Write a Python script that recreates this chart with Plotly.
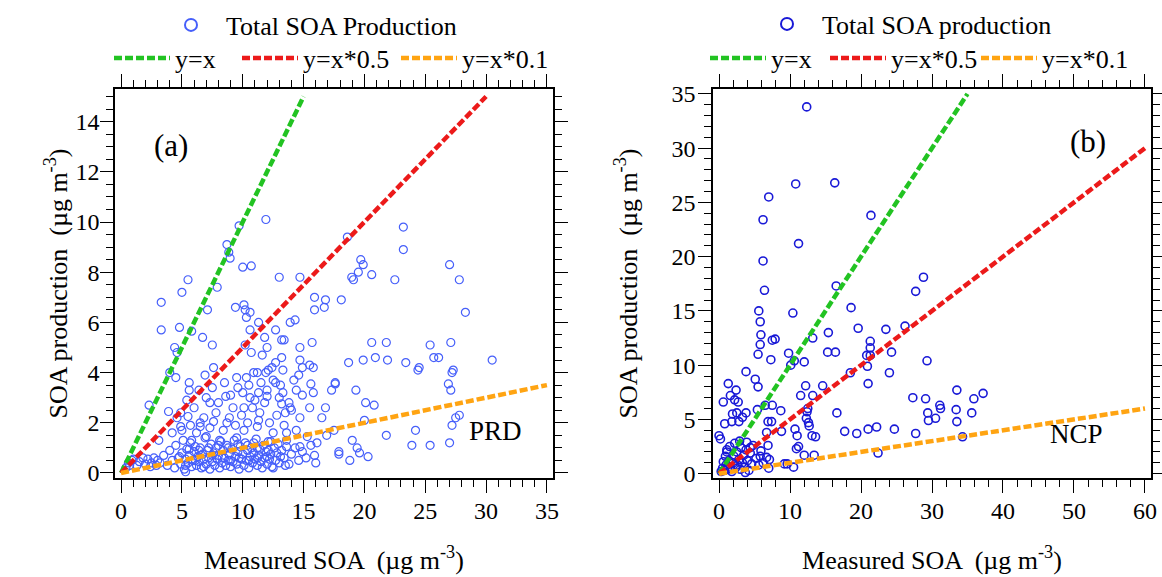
import plotly.graph_objects as go

# ---------------- data ----------------
# Panel (a) PRD : (Measured SOA, SOA production)
prd_points = [
    (11.9, 10.1), (9.7, 9.85), (23.2, 9.8), (23.2, 8.9), (18.6, 9.4), (8.7, 9.1), (8.85, 8.8), (8.96, 8.56),
    (10.0, 8.2), (10.7, 8.25), (19.7, 8.5), (19.9, 8.3), (19.5, 8.0), (18.96, 7.8), (19.1, 7.7), (20.6, 7.9),
    (22.5, 7.7), (27.0, 8.3), (27.8, 7.7), (13.0, 7.8), (14.7, 7.8), (5.5, 7.7), (5.0, 7.2), (7.9, 7.4),
    (3.3, 6.8), (7.1, 6.5), (9.4, 6.6), (10.1, 6.7), (10.2, 6.5), (10.3, 6.2), (10.6, 6.4), (15.9, 7.0),
    (16.8, 6.9), (15.9, 6.5), (16.7, 6.6), (18.1, 6.9), (28.3, 6.4), (3.3, 5.7), (4.8, 5.8), (5.8, 5.65),
    (6.7, 5.4), (7.5, 5.1), (4.4, 5.0), (4.6, 4.8), (10.6, 5.7), (11.3, 6.0), (11.8, 5.4), (12.7, 5.7),
    (13.2, 5.3), (13.4, 5.3), (13.9, 6.0), (14.3, 6.1), (14.7, 5.0), (15.7, 5.2), (10.2, 5.1), (10.7, 4.8),
    (11.6, 4.7), (12.0, 5.0), (20.6, 5.2), (21.8, 5.2), (25.4, 5.1), (27.1, 5.2), (18.7, 4.4), (19.9, 4.5),
    (20.9, 4.6), (21.9, 4.5), (23.4, 4.4), (25.7, 4.6), (26.1, 4.6), (30.5, 4.5), (24.4, 4.1), (24.5, 4.2),
    (27.2, 4.0), (27.3, 4.1), (26.9, 3.55), (27.1, 3.3), (27.8, 2.3), (27.5, 2.2), (27.2, 1.9), (27.0, 1.2),
    (25.4, 1.1), (23.9, 1.1), (24.2, 1.7), (21.8, 1.5), (19.3, 3.3), (20.1, 2.8), (20.8, 2.7), (20.0, 2.1),
    (19.0, 1.3), (19.4, 1.0), (20.3, 0.65), (19.6, 0.8), (18.8, 0.5), (17.9, 0.85), (17.9, 0.75), (17.6, 3.6),
    (17.6, 3.55), (17.3, 3.3), (17.5, 1.7), (16.9, 1.5), (16.8, 2.6), (16.5, 2.2), (16.1, 1.2), (15.9, 0.7),
    (15.3, 1.45), (2.3, 2.7), (3.9, 2.45), (4.0, 4.0), (4.5, 3.8), (3.1, 1.3), (5.6, 3.6), (5.6, 3.3),
    (6.4, 3.3), (6.9, 3.9), (7.6, 4.2), (9.6, 3.4), (10.9, 4.0), (11.2, 4.0), (11.9, 4.0), (12.1, 4.1),
    (12.4, 4.2), (12.7, 4.4), (13.2, 4.6), (12.5, 3.7), (12.7, 3.6), (13.3, 4.1), (10.3, 3.8), (14.7, 4.5),
    (14.9, 4.2), (15.5, 4.3), (15.8, 4.2), (14.6, 3.9), (14.2, 3.7), (14.4, 3.3), (14.9, 3.1), (15.6, 3.55),
    (15.8, 3.2), (15.5, 2.6), (13.1, 3.5), (13.3, 3.2), (13.2, 2.75), (13.8, 2.8), (13.9, 2.6), (11.3, 3.2),
    (12.0, 3.05), (10.6, 3.0), (8.6, 3.05), (7.3, 2.8), (9.2, 2.6), (10.1, 2.6), (11.4, 2.4), (13.5, 2.4),
    (14.7, 2.2), (14.4, 1.7), (12.5, 1.6), (13.6, 1.6), (11.2, 1.85), (10.1, 1.7), (8.7, 2.0), (7.6, 2.05),
    (6.5, 1.85), (5.5, 2.25), (4.9, 2.4), (4.9, 1.85), (5.8, 1.3), (7.0, 1.45), (8.1, 1.3), (9.5, 1.4),
    (10.9, 1.2), (12.3, 1.25), (13.6, 1.05), (14.7, 1.05), (13.1, 0.65), (12.5, 0.2), (13.5, 0.3), (5.3, 0.05),
    (0.9, 0.5), (0.6, 0.4), (1.3, 0.3), (2.4, 0.25),
    (3.2, 0.4), (3.5, 0.7), (3.8, 0.3), (4.0, 0.9), (4.2, 0.5), (4.4, 0.2), (4.5, 1.1), (4.7, 0.6),
    (4.9, 0.35), (5.0, 0.8), (5.1, 1.3), (5.2, 0.15), (5.3, 0.55), (5.4, 0.95), (5.5, 0.4), (5.6, 0.7),
    (5.7, 1.2), (5.8, 0.25), (5.9, 0.5), (6.0, 0.85), (6.1, 1.05), (6.2, 0.3), (6.3, 0.65), (6.4, 0.45),
    (6.5, 1.0), (6.6, 0.2), (6.7, 0.75), (6.8, 0.55), (6.9, 1.4), (7.0, 0.35), (7.1, 0.9), (7.2, 0.6),
    (7.3, 0.15), (7.4, 1.15), (7.5, 0.45), (7.6, 0.8), (7.7, 0.3), (7.8, 1.0), (7.9, 0.55), (8.0, 0.7),
    (8.1, 0.2), (8.2, 1.25), (8.3, 0.4), (8.4, 0.9), (8.5, 0.6), (8.6, 0.3), (8.7, 1.1), (8.8, 0.5),
    (8.9, 0.75), (9.0, 0.25), (9.1, 0.95), (9.2, 0.45), (9.3, 1.3), (9.4, 0.65), (9.5, 0.35), (9.6, 0.85),
    (9.7, 0.15), (9.8, 1.05), (9.9, 0.55), (10.0, 0.75), (10.1, 0.3), (10.2, 1.2), (10.3, 0.5), (10.4, 0.9),
    (10.5, 0.2), (10.6, 0.65), (10.7, 1.0), (10.8, 0.4), (10.9, 0.8), (11.0, 0.55), (11.1, 1.35), (11.2, 0.3),
    (11.3, 0.7), (11.4, 0.95), (11.5, 0.45), (11.6, 0.2), (11.7, 1.1), (11.8, 0.6), (11.9, 0.85), (12.0, 0.35),
    (12.1, 1.25), (12.2, 0.55), (12.3, 0.75), (12.4, 0.25), (12.6, 1.0), (12.7, 0.5), (12.8, 0.8), (12.9, 1.15),
    (13.0, 0.4), (13.2, 0.9), (13.4, 0.6), (13.6, 1.3), (13.8, 0.35), (14.0, 0.75), (14.3, 1.0), (14.6, 0.5),
    (14.9, 0.85), (15.2, 0.6), (15.6, 1.1), (16.0, 0.4),
    (1.5, 0.45), (1.8, 0.6), (2.0, 0.35), (2.2, 0.55), (2.5, 0.4), (2.7, 0.6), (2.9, 0.3), (3.0, 0.5),
    (1.0, 0.55), (0.7, 0.3), (0.4, 0.2),
    (5.3, 0.3), (6.1, 0.5), (6.8, 0.25), (7.5, 0.7), (8.3, 0.6), (9.0, 0.5), (9.7, 0.6), (10.5, 0.5),
    (11.2, 0.6), (12.0, 0.65), (6.4, 0.9), (7.2, 1.0), (8.0, 1.1), (8.8, 1.0), (9.6, 1.15), (10.4, 1.1),
    (11.2, 1.0), (12.1, 0.9), (4.8, 0.65), (5.6, 0.95),
    (4.2, 1.6), (5.0, 1.7), (5.7, 1.9), (6.2, 1.6), (6.8, 2.2), (7.3, 1.8), (7.8, 2.4), (8.4, 1.7),
    (8.9, 2.2), (9.4, 1.9), (9.9, 2.3), (10.4, 2.0), (10.8, 2.6), (11.3, 2.1), (11.8, 2.8), (12.2, 2.0),
    (12.8, 2.3), (13.4, 1.9), (14.0, 2.5), (6.0, 2.6), (7.0, 3.0), (8.0, 2.8), (9.0, 3.1), (10.0, 3.2),
    (11.0, 2.9), (12.0, 3.3), (13.0, 3.0), (8.5, 3.6), (9.5, 3.8), (10.5, 3.5), (11.5, 3.6), (7.5, 3.4),
    (6.5, 2.0), (5.4, 2.9), (4.6, 2.2),
]

# Panel (b) NCP : (Measured SOA, SOA production)
ncp_points = [
    (12.35, 33.8), (10.8, 26.7), (16.3, 26.8), (7.0, 25.5), (6.2, 23.4), (21.4, 23.8), (11.2, 21.2), (6.2, 19.6),
    (16.5, 17.3), (6.4, 16.9), (28.8, 18.1), (27.7, 16.8), (5.6, 15.0), (10.4, 14.8), (5.8, 14.0), (18.6, 15.3),
    (5.9, 12.8), (5.8, 11.9), (7.5, 12.3), (7.9, 12.4), (15.4, 13.0), (19.6, 13.4), (23.5, 13.3), (26.2, 13.6),
    (13.2, 12.5), (5.5, 11.0), (7.3, 10.5), (9.8, 11.1), (10.1, 10.0), (10.6, 10.4), (12.0, 10.3), (15.3, 11.2),
    (16.4, 11.2), (21.3, 12.2), (21.3, 11.6), (20.8, 10.9), (21.3, 10.9), (24.3, 11.2), (29.3, 10.4), (20.9, 9.9),
    (24.0, 9.3), (18.5, 9.3), (21.0, 8.3), (3.8, 9.4), (5.1, 8.7), (5.5, 8.0), (1.3, 8.3), (2.4, 7.7),
    (1.6, 7.2), (0.6, 6.6), (2.2, 6.8), (2.7, 6.6), (12.2, 8.1), (14.6, 8.1), (11.5, 7.2), (13.2, 7.2),
    (6.5, 6.3), (7.5, 6.3), (5.4, 5.9), (8.7, 5.8), (12.5, 6.0), (12.4, 5.7), (16.6, 5.6), (1.9, 5.5),
    (2.5, 5.6), (3.8, 5.6), (3.3, 5.2), (2.8, 4.8), (1.8, 4.8), (0.8, 4.6), (6.9, 4.8), (7.4, 4.8),
    (12.3, 5.1), (12.6, 4.7), (12.7, 4.4), (27.3, 7.0), (29.1, 6.9), (33.5, 7.7), (37.2, 7.4), (35.9, 6.9),
    (31.1, 6.3), (31.2, 6.0), (29.4, 5.6), (33.4, 5.9), (35.6, 5.6), (30.5, 5.1), (29.5, 4.9), (33.5, 4.8),
    (24.7, 4.1), (22.2, 4.3), (21.0, 4.1), (19.4, 3.7), (17.7, 3.9), (27.7, 3.7), (34.3, 3.4), (22.4, 1.9),
    (8.8, 3.9), (10.7, 4.1), (11.0, 3.5), (13.1, 3.5), (13.6, 3.4), (11.2, 2.5), (10.9, 2.3), (12.0, 1.7),
    (13.4, 1.7), (10.5, 0.6), (9.2, 0.9), (9.6, 0.9), (7.0, 0.5), (7.1, 1.3), (6.7, 1.5), (6.9, 2.6),
    (6.7, 3.8), (0.0, 3.5), (0.2, 3.2), (1.1, 2.2), (3.7, 0.1), (5.8, 1.6), (4.4, 2.4),
    (0.3, 0.2), (0.5, 0.5), (0.8, 0.3), (1.0, 0.8), (1.2, 0.4), (1.4, 1.2), (1.6, 0.6), (1.8, 0.2),
    (2.0, 1.0), (2.1, 1.6), (2.3, 0.5), (2.5, 2.0), (2.6, 0.8), (2.8, 1.3), (3.0, 0.4), (3.1, 2.4),
    (3.3, 1.0), (3.5, 1.7), (3.6, 0.6), (3.8, 2.2), (4.0, 1.2), (4.2, 0.3), (4.4, 1.9), (4.6, 0.9),
    (4.8, 2.6), (1.5, 2.5), (0.9, 1.6), (2.9, 3.0), (3.9, 2.9), (2.2, 2.8), (1.1, 2.0), (0.6, 1.1),
    (5.2, 1.4), (5.6, 0.8), (5.9, 2.1), (6.2, 1.0),
]

a_x = [p[0] for p in prd_points]
a_y = [p[1] for p in prd_points]
b_x = [p[0] for p in ncp_points]
b_y = [p[1] for p in ncp_points]

ref_names = ["y=x", "y=x*0.5", "y=x*0.1"]
ref_slopes = [1.0, 0.5, 0.1]
a_ref_xmax = [15, 30, 35]
b_ref_xmax = [35, 60, 60]

a_tickvals_x = [0, 5, 10, 15, 20, 25, 30, 35]
a_tickvals_y = [0, 2, 4, 6, 8, 10, 12, 14]
b_tickvals_x = [0, 10, 20, 30, 40, 50, 60]
b_tickvals_y = [0, 5, 10, 15, 20, 25, 30, 35]

# ---------------- styling ----------------
FONT = "Liberation Serif"
ref_colors = ["#22c322", "#ec1a1a", "#ffa412"]
W, H = 1162, 577
LEG_FONT = 26

fig = go.Figure()

# legend-entry left positions (px) for the three reference lines in each panel
a_leg_px = [109, 237, 396]
b_leg_px = [705, 825, 976]

fig.add_trace(go.Scatter(
    x=a_x, y=a_y, mode="markers", name="Total SOA Production",
    marker=dict(symbol="circle-open", size=8, color="rgb(70,95,250)", line=dict(width=1.2)),
    xaxis="x", yaxis="y", legend="legend",
))
for i, (name, k, xm, c) in enumerate(zip(ref_names, ref_slopes, a_ref_xmax, ref_colors)):
    fig.add_trace(go.Scatter(
        x=[0, xm], y=[0, k * xm], mode="lines", name=name,
        line=dict(color=c, width=4.5, dash="8px,3px"),
        xaxis="x", yaxis="y", legend="legend%d" % (i + 2),
    ))

fig.add_trace(go.Scatter(
    x=b_x, y=b_y, mode="markers", name="Total SOA production",
    marker=dict(symbol="circle-open", size=8, color="rgb(25,25,215)", line=dict(width=1.6)),
    xaxis="x2", yaxis="y2", legend="legend5",
))
for i, (name, k, xm, c) in enumerate(zip(ref_names, ref_slopes, b_ref_xmax, ref_colors)):
    fig.add_trace(go.Scatter(
        x=[0, xm], y=[0, k * xm], mode="lines", name=name,
        line=dict(color=c, width=4.5, dash="8px,3px"),
        xaxis="x2", yaxis="y2", legend="legend%d" % (i + 6),
    ))

def axis(domain, rng, tickvals, minor_dtick, anchor, title, standoff, lblstandoff):
    return dict(
        domain=domain, range=rng, anchor=anchor, autorange=False,
        tickvals=tickvals, ticks="outside", ticklen=13, tickwidth=1.3, tickcolor="black",
        minor=dict(ticks="outside", ticklen=7, tickwidth=1.1, tickcolor="black", dtick=minor_dtick, tick0=0),
        showline=True, linecolor="black", linewidth=1.5, mirror="allticks",
        showgrid=False, zeroline=False, automargin=False,
        ticklabelstandoff=lblstandoff,
        tickfont=dict(family=FONT, size=24, color="black"),
        title=dict(text=title, font=dict(family=FONT, size=26, color="black"), standoff=standoff),
    )

def leg(x_px, y_px, itemwidth, sizing="trace"):
    return dict(orientation="h", x=x_px / W, xanchor="left", y=1 - y_px / H, yanchor="middle",
                font=dict(family=FONT, size=LEG_FONT, color="black"), bgcolor="rgba(0,0,0,0)",
                itemwidth=itemwidth, itemsizing=sizing, borderwidth=0)

xdom_a = [115 / W, 553 / W]
xdom_b = [713 / W, 1151 / W]
ydom = [1 - 478 / H, 1 - 89 / H]
xtitle = "Measured SOA  (µg m<sup>-3</sup>)"
ytitle = "SOA production  (µg m<sup>-3</sup>)"

layout_legends = {
    "legend": leg(156, 25, 60, "constant"),
    "legend5": leg(752, 24, 60, "constant"),
}
for i, xp in enumerate(a_leg_px):
    layout_legends["legend%d" % (i + 2)] = leg(xp, 58, 56)
for i, xp in enumerate(b_leg_px):
    layout_legends["legend%d" % (i + 6)] = leg(xp, 58, 56)

fig.update_layout(
    width=W, height=H,
    margin=dict(l=0, r=0, t=0, b=0),
    paper_bgcolor="white", plot_bgcolor="white",
    font=dict(family=FONT, color="black"),
    xaxis=axis(xdom_a, [-0.5, 35.5], a_tickvals_x, 1, "y", xtitle, 28, -3),
    yaxis=axis(ydom, [-0.2, 15.3], a_tickvals_y, 0.5, "x", ytitle, 0, -4),
    xaxis2=axis(xdom_b, [-0.85, 60.85], b_tickvals_x, 2, "y2", xtitle, 28, -3),
    yaxis2=axis(ydom, [-0.4, 35.45], b_tickvals_y, 1, "x2", ytitle, 26, -2),
    showlegend=True,
    annotations=[
        dict(text="(a)", x=152 / W, y=1 - 126 / H, xref="paper", yref="paper", showarrow=False,
             font=dict(family=FONT, size=31, color="black")),
        dict(text="PRD", x=495 / W, y=1 - 448 / H, xref="paper", yref="paper", showarrow=False,
             font=dict(family=FONT, size=27, color="black")),
        dict(text="(b)", x=1108 / W, y=1 - 122 / H, xref="paper", yref="paper", showarrow=False,
             font=dict(family=FONT, size=31, color="black")),
        dict(text="NCP", x=1105 / W, y=1 - 451 / H, xref="paper", yref="paper", showarrow=False,
             font=dict(family=FONT, size=27, color="black")),
    ],
    **layout_legends,
)

fig.write_html("out.html")
